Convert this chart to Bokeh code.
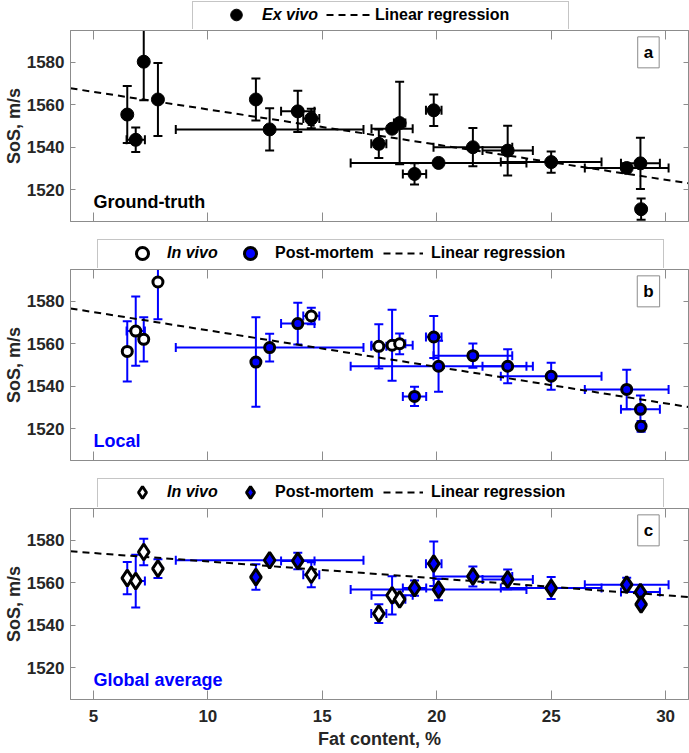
import numpy as np
from bokeh.plotting import figure
from bokeh.models import Range1d, LinearAxis, FixedTicker, Legend, LegendItem, Label
from bokeh.layouts import column
from bokeh.embed import file_html
from bokeh.resources import INLINE

# ---------------- data ----------------
fat_content = [6.48, 6.85, 7.20, 7.82, 12.10, 12.70, 13.93, 14.52, 17.47, 18.05,
               18.38, 19.03, 19.87, 20.08, 21.58, 23.10, 25.00, 28.30, 28.90, 28.93]
fat_content_err = [0.0, 0.40, 0.0, 0.0, 0.0, 4.10, 0.73, 0.35, 0.33, 0.90,
                   0.25, 0.51, 0.34, 3.84, 1.72, 1.10, 2.20, 1.83, 0.85, 0.0]
is_in_vivo = [1, 1, 1, 1, 0, 0, 0, 1, 1, 1, 1, 0, 0, 0, 0, 0, 0, 0, 0, 0]

sos_ground_truth = [1555.4, 1543.5, 1580.3, 1562.5, 1562.5, 1548.4, 1556.9, 1553.5, 1541.6, 1548.7,
                    1551.4, 1527.4, 1557.4, 1532.6, 1540.0, 1538.4, 1533.0, 1530.2, 1532.4, 1510.8]
sos_ground_truth_err = [13.4, 5.8, 18.2, 17.2, 9.9, 10.0, 9.7, 4.6, 6.7, 0.0,
                        19.4, 5.0, 7.4, 0.0, 9.0, 11.7, 5.0, 0.0, 12.1, 5.0]

sos_local = [1556.4, 1566.0, 1562.1, 1589.1, 1551.4, 1558.2, 1569.5, 1573.1, 1558.8, 1559.3,
             1560.0, 1535.2, 1563.2, 1549.4, 1554.4, 1549.4, 1544.7, 1538.5, 1529.1, 1521.1]
sos_local_err = [14.2, 16.3, 10.4, 17.6, 21.1, 6.5, 9.8, 3.9, 10.4, 16.7,
                 4.9, 4.5, 9.9, 12.0, 5.7, 8.0, 6.4, 9.3, 6.5, 2.5]

sos_global = [1562.2, 1560.8, 1574.5, 1566.7, 1562.7, 1570.6, 1570.3, 1563.8, 1545.5, 1554.1,
              1552.2, 1557.5, 1569.0, 1556.8, 1563.0, 1561.6, 1557.5, 1559.1, 1555.6, 1549.8]
sos_global_err = [7.6, 12.4, 6.2, 4.4, 6.0, 1.0, 3.9, 5.9, 4.4, 9.0,
                  0.0, 3.6, 10.5, 5.0, 4.7, 4.7, 5.2, 3.3, 1.5, 1.0]

# linear regression: intercept, slope
regression_ground_truth = [1574.4, -1.658]
regression_local = [1583.55, -1.721]
regression_global = [1578.0, -0.797]

x_ticks = [5, 10, 15, 20, 25, 30]
y_ticks = [1520, 1540, 1560, 1580]

# ---------------- styles ----------------
FONT = "Liberation Sans"
GRAY = "#8c8c8c"
TXT = "#262626"
BLUE = "#0000ff"
W = 689
LEFT = 70
RIGHT = 1

x = np.array(fat_content)
xerr = np.array(fat_content_err)
iv = np.array(is_in_vivo) == 1
NAN = [np.nan]


def style_axis(ax, ticks, tick_len, labels):
    ax.ticker = FixedTicker(ticks=ticks)
    ax.axis_line_color = GRAY
    ax.major_tick_line_color = GRAY
    ax.major_tick_in = tick_len
    ax.major_tick_out = 0
    ax.minor_tick_in = 0
    ax.minor_tick_out = 0
    if labels:
        ax.major_label_text_font = FONT
        ax.major_label_text_font_size = "17px"
        ax.major_label_text_font_style = "bold"
        ax.major_label_text_color = TXT
        ax.axis_label_text_font = FONT
        ax.axis_label_text_font_size = "18px"
        ax.axis_label_text_font_style = "bold"
        ax.axis_label_text_color = TXT
    else:
        ax.major_label_overrides = {t: "" for t in ticks}
        ax.major_label_text_font_size = "0px"
        ax.major_label_standoff = 0


def make_panel(height, bottom, xlabel=None):
    p = figure(width=W, height=height, x_range=Range1d(4, 31), y_range=Range1d(1505, 1595),
               output_backend="svg", toolbar_location=None,
               min_border_left=LEFT, min_border_right=RIGHT, min_border_top=1, min_border_bottom=bottom)
    p.grid.visible = False
    p.outline_line_color = GRAY
    p.background_fill_color = "white"
    p.border_fill_color = "white"
    ya = p.yaxis[0]
    style_axis(ya, y_ticks, 5, True)
    ya.axis_label = "SoS, m/s"
    ya.major_label_standoff = 6
    ya.axis_label_standoff = 0
    xa = p.xaxis[0]
    style_axis(xa, x_ticks, 9, xlabel is not None)
    if xlabel:
        xa.axis_label = xlabel
        xa.major_label_standoff = 10
        xa.axis_label_standoff = 4
    top = LinearAxis()
    style_axis(top, x_ticks, 9, False)
    p.add_layout(top, "above")
    right = LinearAxis()
    style_axis(right, y_ticks, 5, False)
    p.add_layout(right, "right")
    return p


def make_legend_fig(h):
    f = figure(width=W, height=h, x_range=Range1d(0, 1), y_range=Range1d(0, 1),
               x_axis_type=None, y_axis_type=None, output_backend="svg", toolbar_location=None,
               min_border_left=LEFT, min_border_right=RIGHT, min_border_top=0, min_border_bottom=0)
    f.grid.visible = False
    f.outline_line_color = None
    f.background_fill_color = "white"
    f.border_fill_color = "white"
    return f


def error_bars(p, y, yerr, color):
    y = np.array(y)
    yerr = np.array(yerr)
    m = yerr > 0
    p.segment(x0=x[m], y0=y[m] - yerr[m], x1=x[m], y1=y[m] + yerr[m], line_color=color, line_width=2)
    p.scatter(x=np.r_[x[m], x[m]], y=np.r_[y[m] - yerr[m], y[m] + yerr[m]], marker="dash",
              size=9, line_color=color, line_width=2)
    m = xerr > 0
    p.segment(x0=x[m] - xerr[m], y0=y[m], x1=x[m] + xerr[m], y1=y[m], line_color=color, line_width=2)
    p.scatter(x=np.r_[x[m] - xerr[m], x[m] + xerr[m]], y=np.r_[y[m], y[m]], marker="dash",
              angle=np.pi / 2, size=9, line_color=color, line_width=2)


REG_STYLE = dict(line_color="black", line_width=2, line_dash="7 5")


def regression(p, coef):
    xr = np.array([p.x_range.start, p.x_range.end])
    return p.line(x=xr, y=coef[0] + coef[1] * xr, **REG_STYLE)


def legend_box(f, left, width, h):
    dummy = f.scatter(x=NAN, y=NAN, fill_alpha=0, line_alpha=0)
    leg = Legend(items=[LegendItem(label=" ", renderers=[dummy])], location=(left, -2),
                 orientation="horizontal", padding=0, margin=0, spacing=0,
                 glyph_width=width - 20, glyph_height=h, label_standoff=0, label_width=20,
                 label_height=10, label_text_font_size="10px",
                 border_line_color=GRAY, border_line_width=1,
                 background_fill_color="white", background_fill_alpha=1)
    f.add_layout(leg)


def legend_item(f, label, renderer, left, gw, gh, standoff, italic=False):
    leg = Legend(items=[LegendItem(label=label, renderers=[renderer])], location=(left, 0),
                 orientation="horizontal", padding=0, margin=0, spacing=0,
                 glyph_width=gw, glyph_height=gh, label_standoff=standoff, label_height=20,
                 label_text_font=FONT, label_text_font_size="16px",
                 label_text_font_style="bold italic" if italic else "bold",
                 label_text_color="black",
                 border_line_alpha=0, background_fill_alpha=0)
    f.add_layout(leg)


def corner_labels(p, text, color, letter):
    p.add_layout(Label(x=5, y=1514, text=text, text_align="left", text_baseline="middle",
                       text_font=FONT, text_font_size="18px", text_font_style="bold", text_color=color))
    p.add_layout(Label(x=29.25, y=1584.7, text=letter, text_align="center", text_baseline="middle",
                       text_font=FONT, text_font_size="17px", text_font_style="bold", text_color="black",
                       border_line_color=GRAY, background_fill_color="white", padding=6))


# ---------------- panel a ----------------
la = make_legend_fig(29)
pa = make_panel(209, 17)
error_bars(pa, sos_ground_truth, sos_ground_truth_err, "black")
regression(pa, regression_ground_truth)
pa.scatter(x=x, y=sos_ground_truth, marker="circle", size=13, fill_color="black", line_color="black")
corner_labels(pa, "Ground-truth", "black", "a")

k_ex = la.scatter(x=NAN, y=NAN, marker="circle", fill_color="black", line_color="black")
k_reg_a = la.line(x=NAN, y=NAN, **REG_STYLE)
legend_box(la, 122, 375, 28)
legend_item(la, "Ex vivo", k_ex, 151, 30, 29, 11, italic=True)
legend_item(la, "Linear regression", k_reg_a, 256, 46, 29, 3)

# ---------------- panel b ----------------
lb = make_legend_fig(30)
pb = make_panel(209, 17)
error_bars(pb, sos_local, sos_local_err, BLUE)
regression(pb, regression_local)
yb = np.array(sos_local)
pb.scatter(x=x[iv], y=yb[iv], marker="circle", size=10, fill_color="white",
           line_color="black", line_width=3)
pb.scatter(x=x[~iv], y=yb[~iv], marker="circle", size=10, fill_color=BLUE,
           line_color="black", line_width=3)
corner_labels(pb, "Local", BLUE, "b")

k_iv_b = lb.scatter(x=NAN, y=NAN, marker="circle", fill_color="white", line_color="black", line_width=3)
k_pm_b = lb.scatter(x=NAN, y=NAN, marker="circle", fill_color=BLUE, line_color="black", line_width=3)
k_reg_b = lb.line(x=NAN, y=NAN, **REG_STYLE)
legend_box(lb, 27, 565, 29)
legend_item(lb, "In vivo", k_iv_b, 57, 30, 30, 10, italic=True)
legend_item(lb, "Post-mortem", k_pm_b, 165, 30, 30, 10)
legend_item(lb, "Linear regression", k_reg_b, 313, 40, 30, 8)

# ---------------- panel c ----------------
lc = make_legend_fig(30)
pc = make_panel(246, 54, xlabel="Fat content, %")
error_bars(pc, sos_global, sos_global_err, BLUE)
regression(pc, regression_global)
yc = np.array(sos_global)
pc.scatter(x=x[iv], y=yc[iv], marker="diamond", size=16, fill_color="white",
           line_color="black", line_width=3)
pc.scatter(x=x[~iv], y=yc[~iv], marker="diamond", size=16, fill_color=BLUE,
           line_color="black", line_width=3)
corner_labels(pc, "Global average", BLUE, "c")

k_iv_c = lc.scatter(x=NAN, y=NAN, marker="diamond", fill_color="white", line_color="black", line_width=3)
k_pm_c = lc.scatter(x=NAN, y=NAN, marker="diamond", fill_color=BLUE, line_color="black", line_width=3)
k_reg_c = lc.line(x=NAN, y=NAN, **REG_STYLE)
legend_box(lc, 27, 565, 29)
legend_item(lc, "In vivo", k_iv_c, 57, 30, 30, 10, italic=True)
legend_item(lc, "Post-mortem", k_pm_c, 165, 30, 30, 10)
legend_item(lc, "Linear regression", k_reg_c, 313, 40, 30, 8)

layout = column(la, pa, lb, pb, lc, pc)
open("out.html", "w").write(file_html(layout, INLINE, title="SoS vs fat content"))
